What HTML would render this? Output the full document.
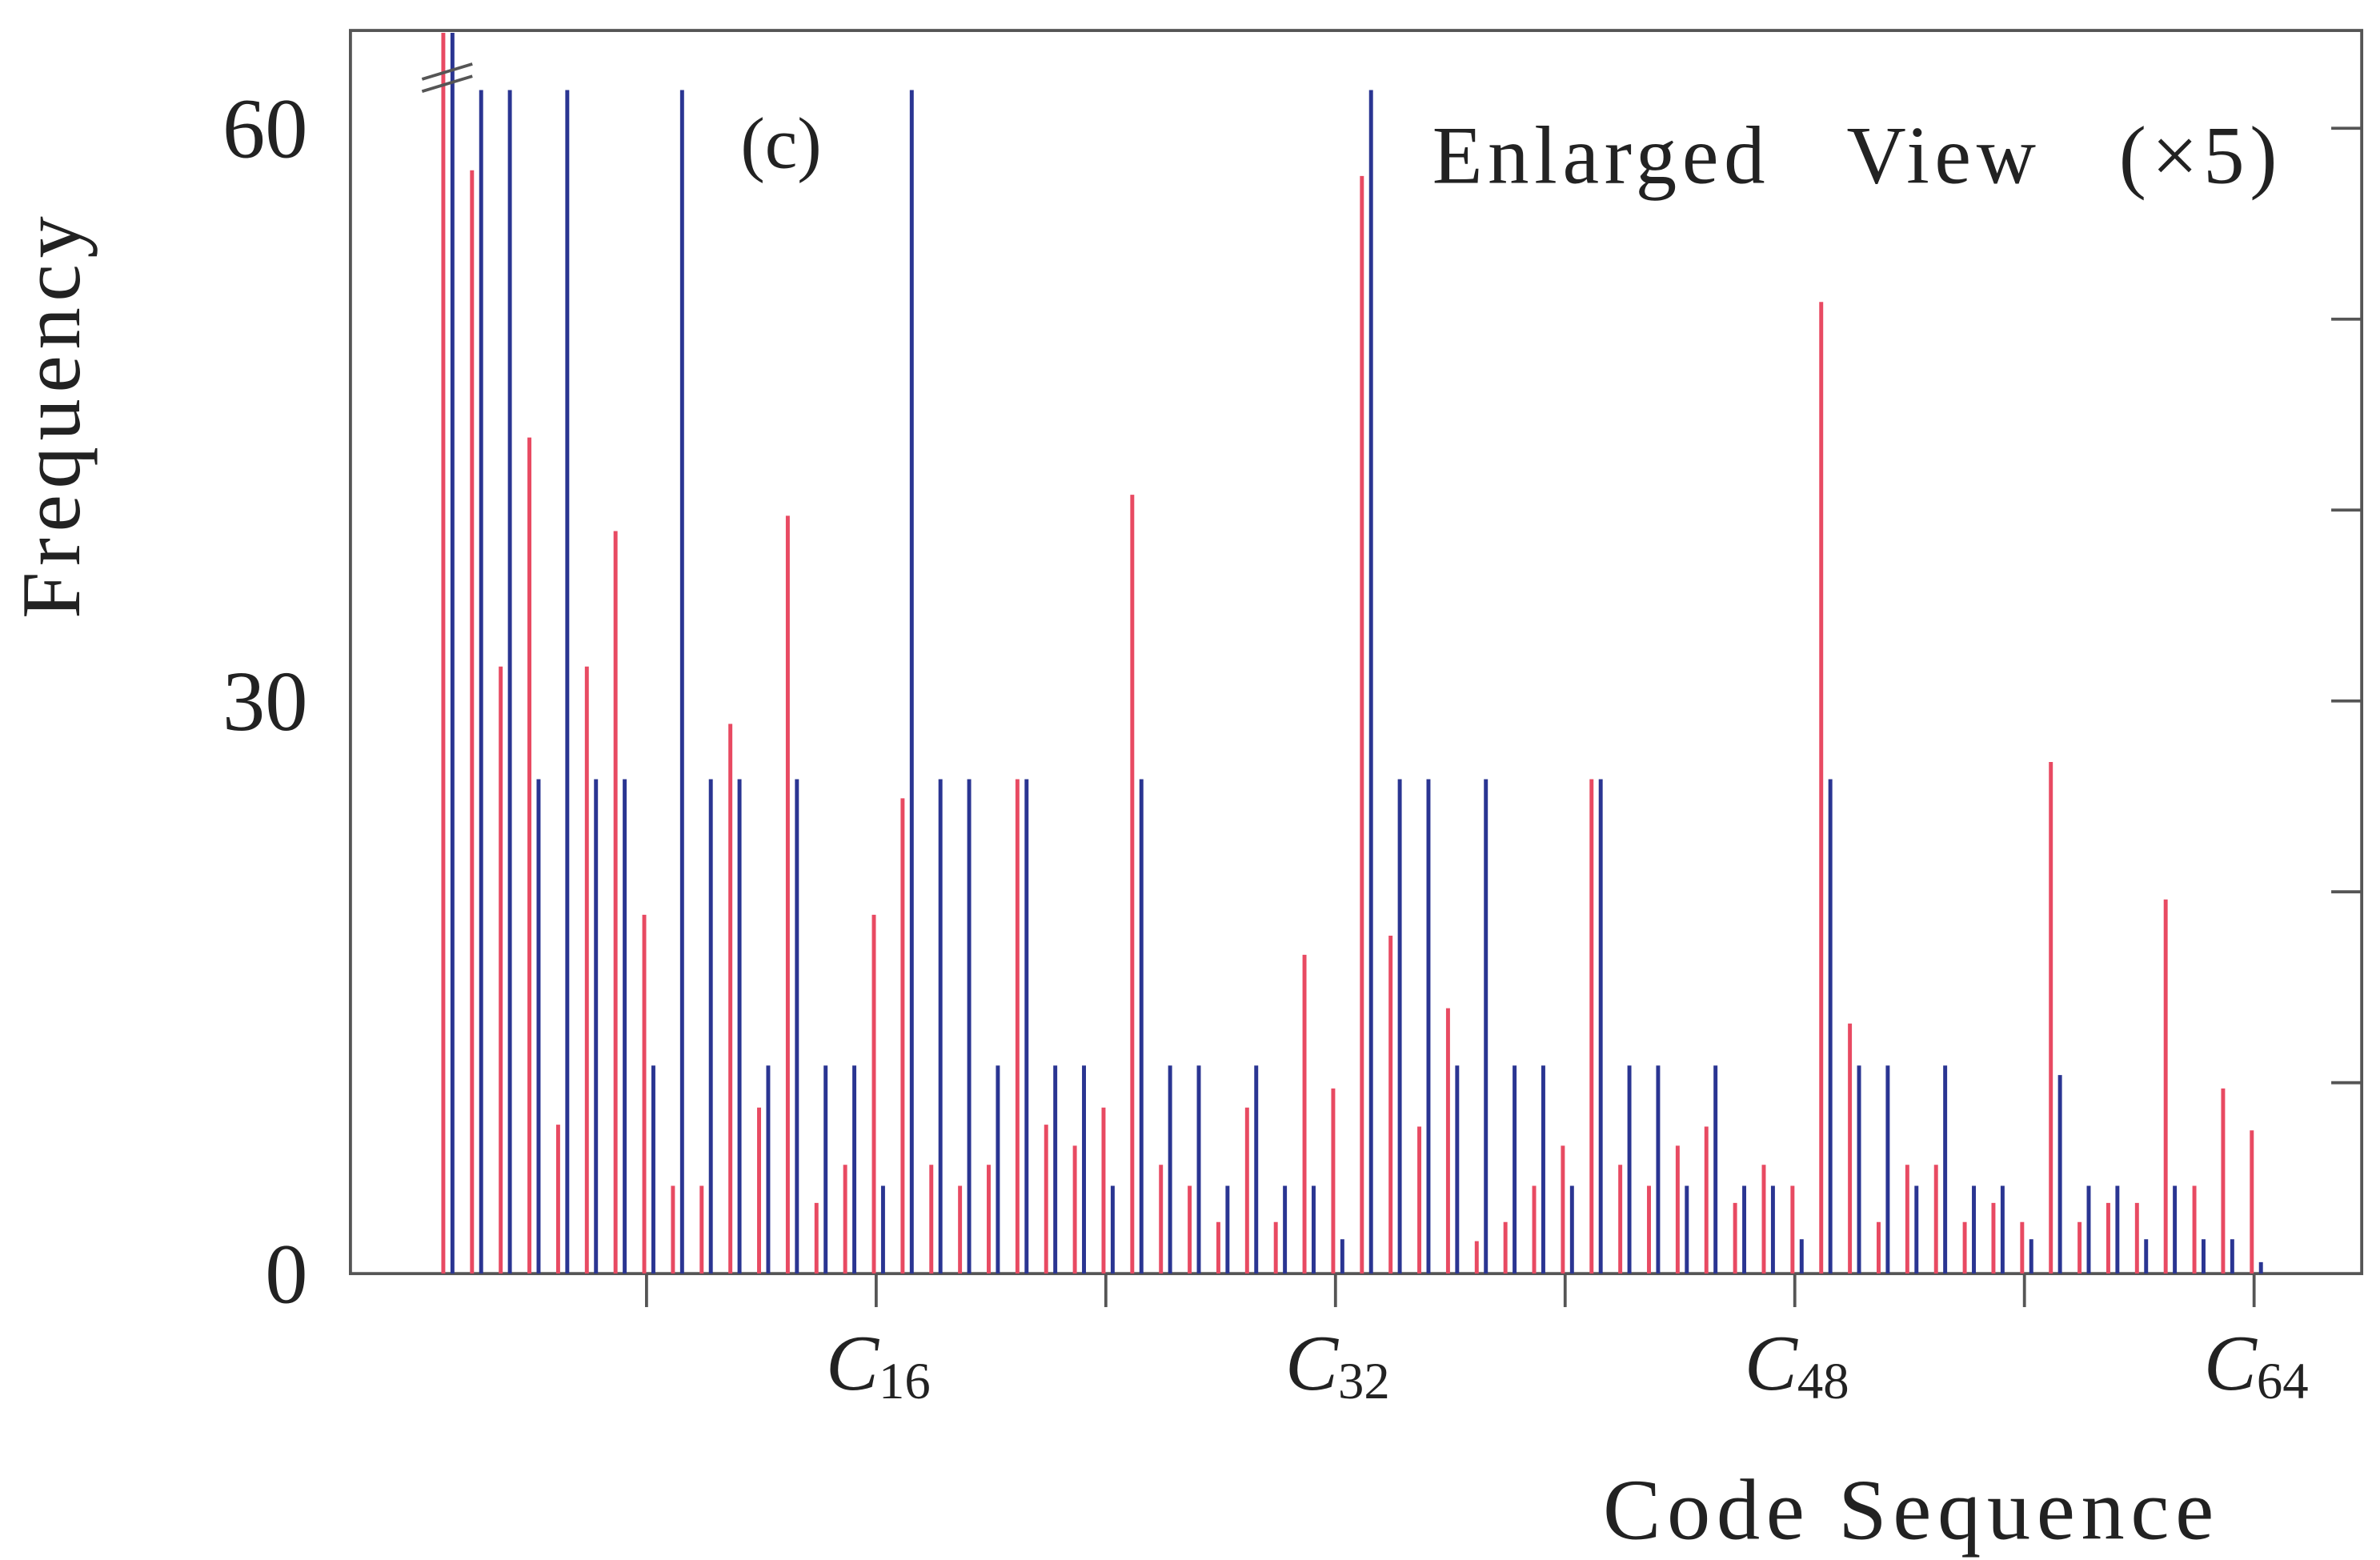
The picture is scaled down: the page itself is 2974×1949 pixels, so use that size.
<!DOCTYPE html>
<html><head><meta charset="utf-8"><style>
html,body{margin:0;padding:0;background:#fff;}
svg{display:block;}
text{font-family:"Liberation Serif",serif;fill:#222;}
</style></head><body>
<svg id="chart" width="2974" height="1949" viewBox="0 0 1562 1024" preserveAspectRatio="none" xmlns="http://www.w3.org/2000/svg">
<rect x="0" y="0" width="1562" height="1024" fill="#fff"/>
<g id="axes" stroke="#555" stroke-width="2" fill="none">
<rect x="230" y="20" width="1320" height="816"/>
</g>
<g id="ticks"></g>
<g id="bars"></g>
<g stroke="#555" stroke-width="2">
<line x1="277" y1="52" x2="310" y2="42"/><line x1="277" y1="60" x2="310" y2="50"/>
</g>
<g id="labels"></g>
<text transform="translate(52,272) rotate(-90)" text-anchor="middle" font-size="55" letter-spacing="4">Frequency</text>
<text x="486" y="110" font-size="48">(c)</text>
<text x="940" y="120" font-size="54" letter-spacing="3.5" word-spacing="34">Enlarged View (×5)</text>
<text x="1052" y="1010" font-size="57" letter-spacing="4">Code Sequence</text>
</svg>
<script>
const codes = [1,2,3,4,5,6,7,8,9,10,11,12,13,14,15,16,17,18,19,20,21,22,23,24,25,26,27,28,29,30,31,32,33,34,35,36,37,38,39,40,41,42,43,44,45,46,47,48,49,50,51,52,53,54,55,56,57,58,59,60,61,62,63,64];
const redValues = [65,57.8,31.8,43.8,7.8,31.8,38.9,18.8,4.6,4.6,28.8,8.7,39.7,3.7,5.7,18.8,24.9,5.7,4.6,5.7,25.9,7.8,6.7,8.7,40.8,5.7,4.6,2.7,8.7,2.7,16.7,9.7,57.5,17.7,7.7,13.9,1.7,2.7,4.6,6.7,25.9,5.7,4.6,6.7,7.7,3.7,5.7,4.6,50.9,13.1,2.7,5.7,5.7,2.7,3.7,2.7,26.8,2.7,3.7,3.7,19.6,4.6,9.7,7.5];
const blueValues = [65,62,62,25.9,62,25.9,25.9,10.9,62,25.9,25.9,10.9,25.9,10.9,10.9,4.6,62,25.9,25.9,10.9,25.9,10.9,10.9,4.6,25.9,10.9,10.9,4.6,10.9,4.6,4.6,1.8,62,25.9,25.9,10.9,25.9,10.9,10.9,4.6,25.9,10.9,10.9,4.6,10.9,4.6,4.6,1.8,25.9,10.9,10.9,4.6,10.9,4.6,4.6,1.8,10.4,4.6,4.6,1.8,4.6,1.8,1.8,0.6];
const yTickValues = [0,30,60];
const yMinorTicks = [0,10,20,30,40,50,60];
const xTickCodes = [8,16,24,32,40,48,56,64];
const xLabelCodes = [16,32,48,64];

const NS = "http://www.w3.org/2000/svg";
const xScale = k => 273.6 + 18.84 * k;
const yScale = v => 836 - 12.53 * v;
function mk(tag, attrs, parent){const e=document.createElementNS(NS,tag);for(const a in attrs)e.setAttribute(a,attrs[a]);parent.appendChild(e);return e;}
const bars = document.getElementById('bars');
const ticks = document.getElementById('ticks');
const labels = document.getElementById('labels');

codes.forEach((k,i)=>{
  const yr = Math.max(yScale(redValues[i]), 21);
  const r = mk('line',{x1:xScale(k)-1.5,x2:xScale(k)-1.5,y1:836,y2:yr,stroke:'#e84a62','stroke-width':2.6},bars);
  
  
  const yb = Math.max(yScale(blueValues[i]), 21);
  const b = mk('line',{x1:xScale(k)+4.5,x2:xScale(k)+4.5,y1:836,y2:yb,stroke:'#2a3592','stroke-width':2.6},bars);
  
  
});

yMinorTicks.forEach(v=>{
  if(v===0) return;
  const t = mk('line',{x1:1530,x2:1550,y1:yScale(v),y2:yScale(v),stroke:'#555','stroke-width':2},ticks);
  
  
});
yTickValues.forEach(v=>{
  const t = mk('text',{x:202,y:yScale(v)+19,'text-anchor':'end','font-size':56},labels);
  t.textContent = v;
  
  
});
xTickCodes.forEach(k=>{
  const t = mk('line',{x1:xScale(k),x2:xScale(k),y1:836,y2:858,stroke:'#555','stroke-width':2},ticks);
  
  
});
xLabelCodes.forEach(k=>{
  const t = mk('text',{x:xScale(k)-33,y:912,'font-size':52},labels);
  const c = mk('tspan',{'font-style':'italic'},t); c.textContent='C';
  const s = mk('tspan',{'font-size':34,dy:6},t); s.textContent=k;
  
  
});
</script>
</body></html>
